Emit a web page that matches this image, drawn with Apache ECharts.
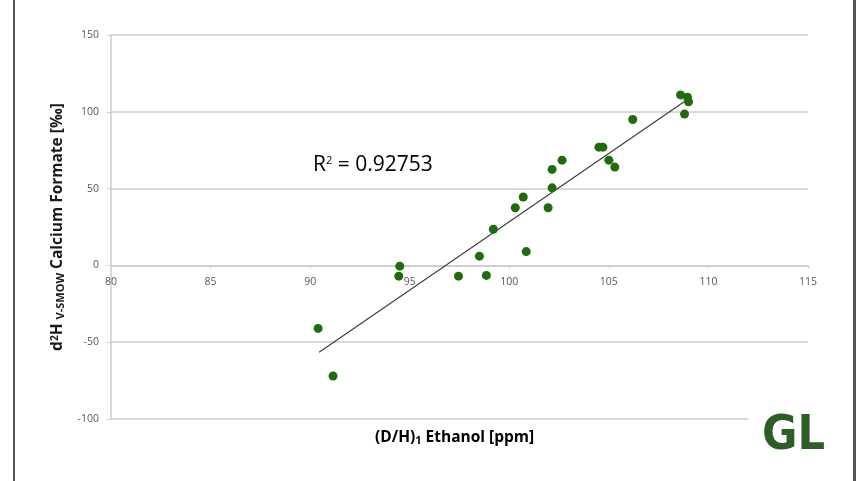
<!DOCTYPE html>
<html>
<head>
<meta charset="utf-8">
<script src="https://cdn.jsdelivr.net/npm/echarts@6/dist/echarts.min.js"></script>
<style>
  html, body { margin: 0; padding: 0; background: #fff; }
  #main { width: 858px; height: 481px; }
</style>
</head>
<body>
<div id="main"></div>
<script>
  // (D/H)1 ethanol [ppm] vs d2H V-SMOW calcium formate [‰]
  const ethanolDH = [90.4, 91.15, 94.5, 94.45, 97.45, 98.5, 98.85, 99.2, 100.3, 100.7, 100.85,
    101.95, 102.15, 102.15, 102.65, 104.5, 104.7, 105.0, 105.3, 106.2, 108.6, 108.95, 109.0, 108.8];
  const formateD2H = [-41, -72, -0.5, -7, -7, 6, -6.5, 23.5, 37.5, 44.5, 9,
    37.5, 50.5, 62.5, 68.5, 77, 77, 68.5, 64, 95, 111, 109.5, 106.5, 98.5];

  // trend line end points
  const trendX = [90.45, 109.0];
  const trendY = [-56.5, 108.5];

  const xTicks = [80, 85, 90, 95, 100, 105, 110, 115];
  const yTicks = [-100, -50, 0, 50, 100, 150];
  const rSquared = '0.92753';

  const chart = echarts.init(document.getElementById('main'), null, { renderer: 'canvas' });

  const labelColor = '#595959';
  const gridColor = '#cccccc';
  const gridTop = 35, gridBottom = 62, gridHeight = 481 - gridTop - gridBottom;
  // x axis sits on y = 0
  const xAxisOffset = -gridHeight * (0 - yTicks[0]) / (yTicks[yTicks.length - 1] - yTicks[0]);

  const option = {
    backgroundColor: '#fff',
    animation: false,
    grid: { left: 111, right: 50, top: gridTop, bottom: gridBottom },
    xAxis: {
      type: 'value',
      min: xTicks[0],
      max: xTicks[xTicks.length - 1],
      interval: 5,
      offset: xAxisOffset,
      axisLine: { onZero: false, lineStyle: { color: gridColor, width: 1.5 } },
      axisTick: { show: true, length: 3, lineStyle: { color: gridColor } },
      axisLabel: { color: labelColor, fontSize: 10.5, fontFamily: 'Open Sans', margin: 11, showMinLabel: true, showMaxLabel: true },
      splitLine: { show: false }
    },
    yAxis: {
      type: 'value',
      min: yTicks[0],
      max: yTicks[yTicks.length - 1],
      interval: 50,
      axisLine: { show: true, onZero: false, lineStyle: { color: gridColor, width: 1.5 } },
      axisTick: { show: true, length: 4, lineStyle: { color: gridColor } },
      axisLabel: { color: labelColor, fontSize: 10.5, fontFamily: 'Open Sans', margin: 12 },
      splitLine: { show: true, lineStyle: { color: gridColor, width: 1.5 } },
      name: '{n|d}{sup|2}{n|H }{sub|V-SMOW}{n| Calcium Formate [‰]}',
      nameLocation: 'middle',
      nameRotate: 90,
      nameGap: 45,
      nameTextStyle: {
        rich: {
          n: { fontSize: 15.5, fontWeight: 'bold', color: '#1a1a1a', fontFamily: 'Open Sans' },
          sup: { fontSize: 10, fontWeight: 'bold', color: '#1a1a1a', fontFamily: 'Open Sans', verticalAlign: 'top' },
          sub: { fontSize: 11, fontWeight: 'bold', color: '#1a1a1a', fontFamily: 'Open Sans', verticalAlign: 'bottom' }
        }
      }
    },
    series: [
      {
        type: 'line',
        data: trendX.map((x, i) => [x, trendY[i]]),
        symbol: 'none',
        lineStyle: { color: '#3a3a3a', width: 1.1 },
        z: 3
      },
      {
        type: 'scatter',
        data: ethanolDH.map((x, i) => [x, formateD2H[i]]),
        symbolSize: 9,
        itemStyle: { color: '#216a0e', opacity: 1 },
        z: 4
      }
    ],
    graphic: [
      // outer frame lines
      { type: 'rect', shape: { x: 13, y: 0, width: 2, height: 481 }, style: { fill: '#555' } },
      { type: 'rect', shape: { x: 853, y: 0, width: 3, height: 481 }, style: { fill: '#555' } },
      // R² label
      {
        type: 'text', left: 313, top: 155,
        style: {
          text: '{n|R}{sup|2}{n| = ' + rSquared + '}',
          rich: {
            n: { fontSize: 21, color: '#111', fontFamily: 'Open Sans' },
            sup: { fontSize: 11, color: '#111', fontFamily: 'Open Sans', verticalAlign: 'top' }
          }
        }
      },
      // x axis name
      {
        type: 'text', left: 375, top: 430,
        style: {
          text: '{n|(D/H)}{sub|1}{n| Ethanol [ppm]}',
          rich: {
            n: { fontSize: 15.5, fontWeight: 'bold', color: '#1a1a1a', fontFamily: 'Open Sans' },
            sub: { fontSize: 11, fontWeight: 'bold', color: '#1a1a1a', fontFamily: 'Open Sans', verticalAlign: 'bottom' }
          }
        }
      },
      // logo
      { type: 'rect', shape: { x: 748, y: 405, width: 70, height: 52 }, style: { fill: '#fff' }, z: 10 },
      {
        type: 'text', left: 762, top: 413, z: 11,
        style: {
          text: 'GL',
          fontSize: 48, fontWeight: 'bold', fontFamily: 'DejaVu Sans Condensed',
          fill: '#2c5e26'
        }
      }
    ]
  };

  chart.setOption(option);
</script>
</body>
</html>
